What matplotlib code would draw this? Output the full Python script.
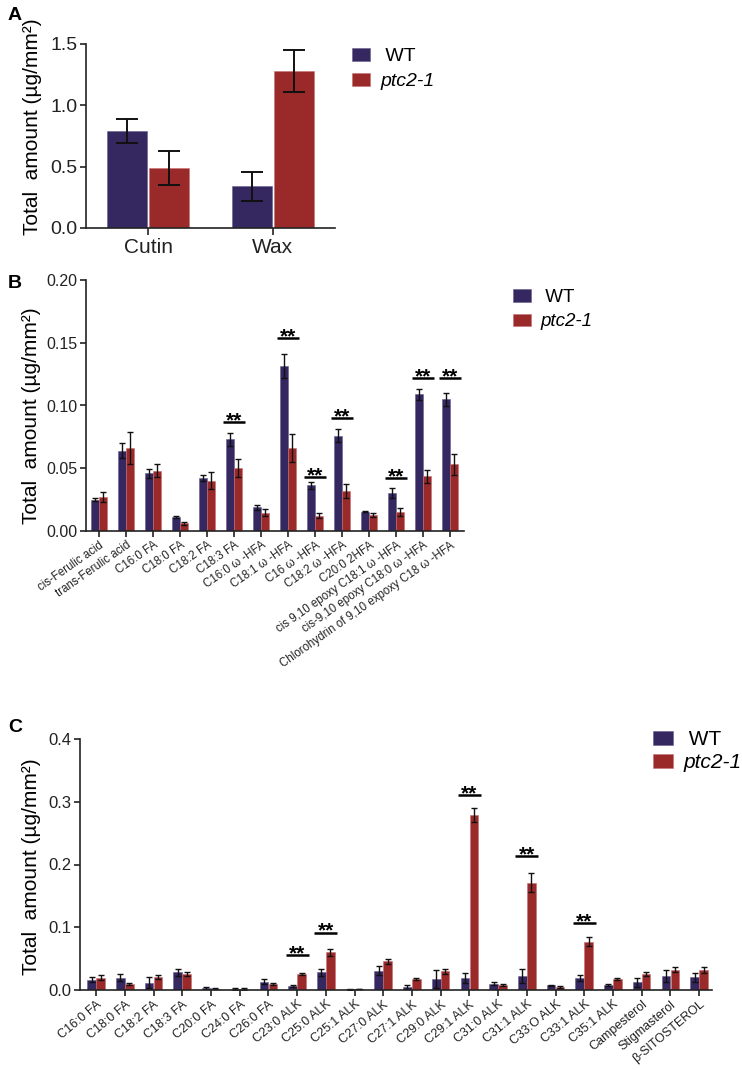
import numpy as np
import matplotlib
matplotlib.use("Agg")
import matplotlib.pyplot as plt

plt.rcParams['font.family'] = ['Liberation Sans', 'DejaVu Sans']

wt_color = '#35275f'
mut_color = '#9a2a2a'

# ---- panel A
a_cats = ['Cutin', 'Wax']
a_wt = [0.79, 0.34]
a_wt_err = [0.10, 0.12]
a_mut = [0.49, 1.28]
a_mut_err = [0.14, 0.17]

# ---- panel B (cutin monomers)
b_cats = ['cis-Ferulic acid', 'trans-Ferulic acid', 'C16:0 FA', 'C18:0 FA', 'C18:2 FA',
          'C18:3 FA', 'C16:0 ω -HFA', 'C18:1 ω -HFA', 'C16 ω -HFA', 'C18:2 ω -HFA',
          'C20:0 2HFA', 'cis 9,10 epoxy C18:1 ω -HFA', 'cis-9,10 epoxy C18:0 ω -HFA',
          'Chlorohydrin of 9,10 expoxy C18 ω -HFA']
b_wt = [0.025, 0.064, 0.046, 0.011, 0.0425, 0.073, 0.019, 0.1315, 0.0365, 0.076,
        0.0155, 0.030, 0.109, 0.105]
b_wt_err = [0.001, 0.006, 0.0035, 0.001, 0.0025, 0.005, 0.002, 0.0095, 0.0027, 0.0053,
            0.0007, 0.004, 0.0045, 0.005]
b_mut = [0.027, 0.066, 0.048, 0.006, 0.040, 0.050, 0.0147, 0.066, 0.012, 0.0315,
         0.0125, 0.015, 0.0436, 0.053]
b_mut_err = [0.004, 0.013, 0.005, 0.001, 0.0067, 0.007, 0.0025, 0.011, 0.002, 0.0056,
             0.0015, 0.003, 0.0053, 0.008]
b_sig = {5: 0.087, 7: 0.154, 8: 0.043, 9: 0.090, 11: 0.042, 12: 0.122, 13: 0.122}

# ---- panel C (wax components)
c_cats = ['C16:0 FA', 'C18:0 FA', 'C18:2 FA', 'C18:3 FA', 'C20:0 FA', 'C24:0 FA',
          'C26:0 FA', 'C23:0 ALK', 'C25:0 ALK', 'C25:1 ALK', 'C27:0 ALK', 'C27:1 ALK',
          'C29:0 ALK', 'C29:1 ALK', 'C31:0 ALK', 'C31:1 ALK', 'C33:O ALK', 'C33:1 ALK',
          'C35:1 ALK', 'Campesterol', 'Stigmasterol', 'β-SITOSTEROL']
c_wt = [0.016, 0.0197, 0.0117, 0.028, 0.003, 0.0015, 0.0128, 0.0064, 0.028, 0.001,
        0.031, 0.0053, 0.0176, 0.019, 0.010, 0.0223, 0.0074, 0.019, 0.0074, 0.0122,
        0.0218, 0.020]
c_wt_err = [0.004, 0.006, 0.009, 0.005, 0.002, 0.001, 0.004, 0.0015, 0.0055, 0.0005,
            0.007, 0.003, 0.015, 0.0075, 0.002, 0.0106, 0.001, 0.0048, 0.0015, 0.0074,
            0.0096, 0.0075]
c_mut = [0.0197, 0.009, 0.021, 0.0255, 0.002, 0.0015, 0.0096, 0.0255, 0.060, 0.0015,
         0.046, 0.018, 0.030, 0.279, 0.0085, 0.171, 0.0048, 0.077, 0.0176, 0.025,
         0.0324, 0.0324]
c_mut_err = [0.004, 0.0015, 0.003, 0.003, 0.001, 0.001, 0.0015, 0.0015, 0.0055, 0.0005,
             0.004, 0.0015, 0.004, 0.0106, 0.0015, 0.015, 0.001, 0.007, 0.0022, 0.003,
             0.004, 0.005]
c_sig = {7: 0.056, 8: 0.0915, 13: 0.311, 15: 0.213, 17: 0.106}

ylab = 'Total  amount (µg/mm²)'

fig = plt.figure(figsize=(7.42, 10.70), dpi=100)


def style_axes(ax, tick_size):
    for s in ['top', 'right']:
        ax.spines[s].set_visible(False)
    for s in ['left', 'bottom']:
        ax.spines[s].set_linewidth(1.2)
        ax.spines[s].set_color('#222222')
    ax.tick_params(width=1.2, length=4, pad=2, color='#222222', labelsize=tick_size,
                   labelcolor='#222222')


def grouped(ax, wt, wt_err, mut, mut_err, w, off, lw, cap):
    x = np.arange(len(wt))
    ax.bar(x - off, wt, w, color=wt_color, edgecolor='#6a5f90', linewidth=0.4, label=' WT')
    ax.bar(x + off, mut, w, color=mut_color, edgecolor='#c87070', linewidth=0.4, label='ptc2-1')
    ax.errorbar(x - off, wt, yerr=wt_err, fmt='none', ecolor='#111111', elinewidth=lw,
                capsize=cap, capthick=lw)
    ax.errorbar(x + off, mut, yerr=mut_err, fmt='none', ecolor='#111111', elinewidth=lw,
                capsize=cap, capthick=lw)
    return x


def stars(ax, sig, half, size):
    for i, y in sig.items():
        ax.plot([i - half, i + half], [y, y], color='black', lw=1.8, solid_capstyle='butt')
        ax.annotate('**', (i, y), xytext=(0, -3), textcoords='offset points',
                    ha='center', va='baseline', fontsize=size, fontweight='bold')


def add_legend(ax, x, y, size, spacing):
    leg = ax.legend(loc='upper left', bbox_to_anchor=(x, y), bbox_transform=fig.transFigure,
                    frameon=False, fontsize=size, borderpad=0, borderaxespad=0,
                    handlelength=0.95, handleheight=0.65, handletextpad=0.5,
                    labelspacing=spacing)
    leg.get_texts()[1].set_style('italic')


# A
axA = fig.add_axes([86 / 742, 1 - 228 / 1070, 249 / 742, 184 / 1070])
grouped(axA, a_wt, a_wt_err, a_mut, a_mut_err, 0.32, 0.168, 1.4, 8)
axA.set_xlim(-0.5, 1.5)
axA.set_ylim(0, 1.5)
axA.set_yticks([0, 0.5, 1.0, 1.5])
axA.set_yticklabels(['0.0', '0.5', '1.0', '1.5'])
axA.set_xticks([0, 1])
axA.set_xticklabels(a_cats)
style_axes(axA, 14)
axA.tick_params(axis='x', labelsize=15, length=5)
axA.set_ylabel(ylab, fontsize=15)
axA.yaxis.set_label_coords(-0.175, 0.55)
add_legend(axA, 352 / 742, 1 - 48 / 1070, 14, 0.38)

# B
axB = fig.add_axes([86 / 742, 1 - 531 / 1070, 378 / 742, 251 / 1070])
grouped(axB, b_wt, b_wt_err, b_mut, b_mut_err, 0.30, 0.155, 1.0, 2)
axB.set_xlim(-0.48, 13.52)
axB.set_ylim(0, 0.2)
axB.set_yticks([0, 0.05, 0.10, 0.15, 0.20])
axB.set_yticklabels(['0.00', '0.05', '0.10', '0.15', '0.20'])
axB.set_xticks(np.arange(len(b_cats)))
axB.set_xticklabels(b_cats, rotation=35, ha='right', rotation_mode='anchor')
style_axes(axB, 11.5)
axB.tick_params(axis='x', labelsize=8.3)
stars(axB, b_sig, 0.4, 15)
axB.set_ylabel(ylab, fontsize=15)
axB.yaxis.set_label_coords(-0.118, 0.46)
add_legend(axB, 513 / 742, 1 - 289 / 1070, 13.5, 0.4)

# C
axC = fig.add_axes([80 / 742, 1 - 990 / 1070, 632 / 742, 251 / 1070])
grouped(axC, c_wt, c_wt_err, c_mut, c_mut_err, 0.30, 0.155, 1.0, 2)
axC.set_xlim(-0.56, 21.45)
axC.set_ylim(0, 0.4)
axC.set_yticks([0, 0.1, 0.2, 0.3, 0.4])
axC.set_yticklabels(['0.0', '0.1', '0.2', '0.3', '0.4'])
axC.set_xticks(np.arange(len(c_cats)))
axC.set_xticklabels(c_cats, rotation=40, ha='right', rotation_mode='anchor')
style_axes(axC, 12)
axC.tick_params(axis='x', labelsize=9)
stars(axC, c_sig, 0.4, 15)
axC.set_ylabel(ylab, fontsize=15)
axC.yaxis.set_label_coords(-0.062, 0.49)
add_legend(axC, 653 / 742, 1 - 730 / 1070, 15, 0.2)

# panel letters
for lab, y in [('A', 15), ('B', 283), ('C', 727)]:
    fig.text(8 / 742, 1 - y / 1070, lab, fontsize=14, fontweight='bold', va='center', ha='left')

fig.savefig('out.png', dpi=100)
